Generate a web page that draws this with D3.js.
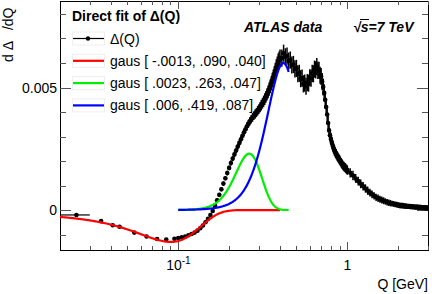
<!DOCTYPE html>
<meta charset="utf-8">
<style>
body { margin: 0; background: #fff; }
text { font-family: 'Liberation Sans', Arial, Helvetica, sans-serif; fill: #000; }
</style>
<body>
<script src="https://d3js.org/d3.v7.min.js"></script>
<script>
// measured Delta(Q) points
var qValues = [0.025, 0.035, 0.041, 0.045, 0.055, 0.065, 0.075, 0.085, 0.095,
  0.100, 0.105, 0.110, 0.115, 0.120, 0.125, 0.130, 0.135, 0.140, 0.145,
  0.150, 0.155, 0.160, 0.165, 0.170, 0.175, 0.180, 0.185, 0.190, 0.195,
  0.200, 0.205, 0.210, 0.215, 0.220, 0.225, 0.230, 0.235, 0.240, 0.245,
  0.250, 0.255, 0.260, 0.265, 0.270, 0.275, 0.280, 0.285, 0.290, 0.295,
  0.300, 0.305, 0.310, 0.315, 0.320, 0.325, 0.330, 0.335, 0.340, 0.345,
  0.350, 0.355, 0.360, 0.365, 0.370, 0.375, 0.380, 0.385, 0.390, 0.395,
  0.400,
  0.41, 0.42, 0.43, 0.44, 0.45, 0.46, 0.47, 0.48, 0.49, 0.50,
  0.51, 0.52, 0.53, 0.54, 0.55, 0.56, 0.57, 0.58, 0.59, 0.60,
  0.61, 0.62, 0.63, 0.64, 0.65, 0.66, 0.67, 0.68, 0.69, 0.70,
  0.71, 0.72, 0.73, 0.74, 0.75, 0.76, 0.77, 0.78, 0.79, 0.80,
  0.81, 0.82, 0.83, 0.84, 0.85, 0.86, 0.87, 0.88, 0.89, 0.90,
  0.91, 0.92, 0.93, 0.94, 0.95, 0.96, 0.97, 0.98, 0.99, 1.00,
  1.04, 1.08, 1.12, 1.16, 1.20, 1.24, 1.28, 1.32, 1.36, 1.40,
  1.44, 1.48, 1.52, 1.56, 1.60, 1.64, 1.68, 1.72, 1.76, 1.80,
  1.84, 1.88, 1.92, 1.96, 2.00, 2.04, 2.08, 2.12, 2.16, 2.20,
  2.24, 2.28, 2.32, 2.36, 2.40, 2.44, 2.48, 2.52, 2.56, 2.60,
  2.64, 2.68, 2.72, 2.76, 2.80, 2.84, 2.88, 2.92, 2.96, 3.00];
var deltaValues = [-0.00020, -0.00045, -0.00062, -0.00068, -0.00092, -0.00108, -0.00118, -0.00120, -0.00117,
  -0.00114, -0.00111, -0.00108, -0.00103, -0.00098, -0.00092, -0.00084, -0.00074, -0.00063, -0.00050,
  -0.00036, -0.00020, -0.00004, 0.00018, 0.00040, 0.00062, 0.00085, 0.00108, 0.00130, 0.00151,
  0.00172, 0.00192, 0.00210, 0.00227, 0.00243, 0.00259, 0.00274, 0.00289, 0.00303, 0.00317,
  0.00330, 0.00342, 0.00352, 0.00362, 0.00370, 0.00378, 0.00385, 0.00392, 0.00398, 0.00405,
  0.00412, 0.00420, 0.00428, 0.00436, 0.00444, 0.00453, 0.00462, 0.00472, 0.00482, 0.00493,
  0.00505, 0.00517, 0.00530, 0.00543, 0.00556, 0.00569, 0.00582, 0.00594, 0.00605, 0.00613,
  0.00620,
  0.00620, 0.00640, 0.00625, 0.00628, 0.00608, 0.00612, 0.00592, 0.00594, 0.00576, 0.00578,
  0.00556, 0.00558, 0.00536, 0.00538, 0.00515, 0.00518, 0.00505, 0.00520, 0.00518, 0.00540,
  0.00538, 0.00558, 0.00556, 0.00575, 0.00572, 0.00585, 0.00570, 0.00570, 0.00550, 0.00545,
  0.00524, 0.00502, 0.00478, 0.00450, 0.00420, 0.00390, 0.00355, 0.00325, 0.00305, 0.00290,
  0.00275, 0.00262, 0.00251, 0.00242, 0.00235, 0.00228, 0.00221, 0.00215, 0.00210, 0.00205,
  0.00199, 0.00193, 0.00188, 0.00183, 0.00179, 0.00176, 0.00173, 0.00170, 0.00166, 0.00163,
  0.00152, 0.00141, 0.00129, 0.00118, 0.00107, 0.00097, 0.00088, 0.00079, 0.00071, 0.00064,
  0.00058, 0.00052, 0.00048, 0.00044, 0.00041, 0.00038, 0.00035, 0.00032, 0.00030, 0.00028,
  0.00026, 0.00025, 0.00023, 0.00022, 0.00020, 0.00019, 0.00018, 0.00018, 0.00017, 0.00016,
  0.00016, 0.00015, 0.00015, 0.00014, 0.00014, 0.00013, 0.00013, 0.00012, 0.00012, 0.00012,
  0.00011, 0.00011, 0.00011, 0.00010, 0.00010, 0.00010, 0.00009, 0.00009, 0.00009, 0.00008];
var deltaErrors = [0.00003, 0.00003, 0.00003, 0.00003, 0.00003, 0.00003, 0.00003, 0.00003, 0.00003,
  0.00005, 0.00005, 0.00005, 0.00005, 0.00006, 0.00006, 0.00006, 0.00006, 0.00007, 0.00007,
  0.00007, 0.00007, 0.00008, 0.00008, 0.00008, 0.00008, 0.00009, 0.00009, 0.00009, 0.00010,
  0.00010, 0.00011, 0.00011, 0.00012, 0.00012, 0.00013, 0.00013, 0.00014, 0.00014, 0.00015,
  0.00015, 0.00016, 0.00016, 0.00017, 0.00017, 0.00018, 0.00018, 0.00019, 0.00019, 0.00020,
  0.00020, 0.00021, 0.00022, 0.00022, 0.00023, 0.00024, 0.00024, 0.00025, 0.00026, 0.00027,
  0.00028, 0.00029, 0.00030, 0.00030, 0.00031, 0.00032, 0.00033, 0.00033, 0.00034, 0.00034,
  0.00035,
  0.00035, 0.00035, 0.00035, 0.00035, 0.00035, 0.00035, 0.00035, 0.00035, 0.00035, 0.00035,
  0.00035, 0.00035, 0.00035, 0.00035, 0.00035, 0.00035, 0.00035, 0.00035, 0.00035, 0.00035,
  0.00035, 0.00035, 0.00035, 0.00035, 0.00035, 0.00035, 0.00035, 0.00035, 0.00035, 0.00035,
  0.00035, 0.00035, 0.00035, 0.00035, 0.00034, 0.00032, 0.00030, 0.00028, 0.00026, 0.00025,
  0.00024, 0.00023, 0.00022, 0.00022, 0.00021, 0.00021, 0.00020, 0.00020, 0.00020, 0.00020,
  0.00019, 0.00019, 0.00019, 0.00019, 0.00019, 0.00019, 0.00019, 0.00019, 0.00019, 0.00019,
  0.00019, 0.00019, 0.00018, 0.00018, 0.00018, 0.00017, 0.00017, 0.00017, 0.00016, 0.00016,
  0.00015, 0.00015, 0.00015, 0.00014, 0.00014, 0.00014, 0.00013, 0.00013, 0.00013, 0.00013,
  0.00012, 0.00012, 0.00012, 0.00012, 0.00012, 0.00012, 0.00012, 0.00012, 0.00012, 0.00012,
  0.00011, 0.00011, 0.00011, 0.00011, 0.00011, 0.00011, 0.00011, 0.00011, 0.00011, 0.00011,
  0.00011, 0.00011, 0.00011, 0.00011, 0.00011, 0.00011, 0.00011, 0.00011, 0.00011, 0.00011];
var qErrors = [0.005];   // only the first bin shows its width

// gaussian fits: [constant, mean, sigma] and their ranges
var fitConst = [-0.0013, 0.0023, 0.006];
var fitMean = [0.090, 0.263, 0.419];
var fitSigma = [0.040, 0.047, 0.087];
var fitFrom = [0.02, 0.1, 0.1];
var fitTo = [0.4, 0.45, 0.45];
var fitLabels = ["gaus [ -.0013, .090, .040]", "gaus [ .0023, .263, .047]", "gaus [ .006, .419, .087]"];
var fitColors = ["#ff0000", "#00ee00", "#0000ff"];

var yMajor = [0, 0.005], yMajorLabels = ["0", "0.005"];
var yMinor = [-0.001, 0.001, 0.002, 0.003, 0.004, 0.006, 0.007, 0.008];
var xMajor = [0.1, 1];
var xMinor = [0.03, 0.04, 0.05, 0.06, 0.07, 0.08, 0.09, 0.2, 0.3, 0.4, 0.5, 0.6, 0.7, 0.8, 0.9, 2, 3];

var width = 432, height = 294;
var L = 60, R = 428, T = 1, B = 250;

var svg = d3.select("body").append("svg")
    .attr("width", width)
    .attr("height", height);

var x = d3.scaleLog().domain([0.02, 3]).range([L, R]);
var y = d3.scaleLinear().domain([-0.00163, 0.00853]).range([B, T]);

var points = qValues.map((q, i) => ({q: q, v: deltaValues[i], e: deltaErrors[i], xe: qErrors[i] || 0}));

svg.append("clipPath").attr("id", "frame")
  .append("rect").attr("x", L).attr("y", T).attr("width", R - L + 1).attr("height", B - T);

// frame
svg.append("rect")
    .attr("x", L + 0.5).attr("y", T + 0.5)
    .attr("width", R - L).attr("height", B - T)
    .attr("fill", "none").attr("stroke", "#000").attr("stroke-width", 1);

var ticks = svg.append("g").attr("stroke", "#555").attr("stroke-width", 1).attr("shape-rendering", "crispEdges");
yMajor.concat(yMinor).forEach(v => {
  var len = yMajor.indexOf(v) >= 0 ? 11 : 6;
  var yy = Math.round(y(v)) + 0.5;
  ticks.append("line").attr("x1", L).attr("x2", L + len).attr("y1", yy).attr("y2", yy);
  ticks.append("line").attr("x1", R).attr("x2", R - len).attr("y1", yy).attr("y2", yy);
});
xMajor.concat(xMinor).forEach(q => {
  var len = xMajor.indexOf(q) >= 0 ? 8 : 4;
  var xx = Math.round(x(q)) + 0.5;
  ticks.append("line").attr("x1", xx).attr("x2", xx).attr("y1", B).attr("y2", B - len);
  ticks.append("line").attr("x1", xx).attr("x2", xx).attr("y1", T).attr("y2", T + len);
});

// tick labels
yMajor.forEach((v, i) => {
  svg.append("text").attr("x", 57).attr("y", y(v) + 5)
      .attr("text-anchor", "end").attr("font-size", 14).text(yMajorLabels[i]);
});
var xl = svg.append("text").attr("x", x(0.1) - 12).attr("y", 270).attr("font-size", 14);
xl.append("tspan").text("10");
xl.append("tspan").attr("font-size", 10).attr("dy", -6).text("-1");
svg.append("text").attr("x", x(1)).attr("y", 270).attr("text-anchor", "middle").attr("font-size", 14).text("1");

svg.append("text").attr("x", 428).attr("y", 289).attr("text-anchor", "end").attr("font-size", 14).text("Q [GeV]");
svg.append("text").attr("transform", "translate(13,62) rotate(-90)")
    .attr("font-size", 14).style("white-space", "pre").text("d \u0394   /dQ");

// data: error bars + markers
var g = svg.append("g").attr("clip-path", "url(#frame)");
g.selectAll("line.ey").data(points).join("line")
    .attr("class", "ey")
    .attr("x1", d => x(d.q)).attr("x2", d => x(d.q))
    .attr("y1", d => y(d.v - d.e)).attr("y2", d => y(d.v + d.e))
    .attr("stroke", "#000").attr("stroke-width", 1.5);
g.selectAll("line.ex").data(points.filter(d => d.xe > 0)).join("line")
    .attr("class", "ex")
    .attr("x1", d => x(d.q - d.xe)).attr("x2", d => x(d.q + d.xe))
    .attr("y1", d => y(d.v)).attr("y2", d => y(d.v))
    .attr("stroke", "#000").attr("stroke-width", 1.2);
g.selectAll("circle").data(points).join("circle")
    .attr("cx", d => x(d.q)).attr("cy", d => y(d.v)).attr("r", 2.3)
    .attr("fill", "#000");

// fit curves
var line = d3.line().x(d => x(d[0])).y(d => y(d[1]));
fitConst.forEach((c, i) => {
  var lo = Math.log10(fitFrom[i]), hi = Math.log10(fitTo[i]);
  var pts = d3.range(0, 201).map(k => {
    var q = Math.pow(10, lo + (hi - lo) * k / 200);
    var z = (q - fitMean[i]) / fitSigma[i];
    return [q, c * Math.exp(-0.5 * z * z)];
  });
  svg.append("path").datum(pts).attr("d", line)
      .attr("fill", "none").attr("stroke", fitColors[i]).attr("stroke-width", 2.2);
});

// legend
svg.append("text").attr("x", 72).attr("y", 21).attr("font-size", 14).attr("font-weight", "bold")
    .text("Direct fit of \u0394(Q)");
var rowY = [38.5, 60.8, 83.1, 105.4];
var leg = svg.append("g");
rowY.forEach((ry, i) => {
  leg.append("rect").attr("x", 72.5).attr("y", ry - 6.5).attr("width", 32).attr("height", 13)
      .attr("fill", "none").attr("stroke", "#eee");
});
leg.append("line").attr("x1", 73).attr("x2", 104).attr("y1", rowY[0]).attr("y2", rowY[0])
    .attr("stroke", "#000").attr("stroke-width", 1.2);
leg.append("circle").attr("cx", 88).attr("cy", rowY[0]).attr("r", 2.2).attr("fill", "#000");
leg.append("text").attr("x", 110).attr("y", rowY[0] + 5).attr("font-size", 14).text("\u0394(Q)");
fitLabels.forEach((t, i) => {
  var ry = rowY[i + 1];
  leg.append("line").attr("x1", 73).attr("x2", 104).attr("y1", ry).attr("y2", ry)
      .attr("stroke", fitColors[i]).attr("stroke-width", 2.2);
  leg.append("text").attr("x", 110).attr("y", ry + 5).attr("font-size", 14).text(t);
});

// labels
svg.append("text").attr("x", 244).attr("y", 32).attr("font-size", 14)
    .attr("font-weight", "bold").attr("font-style", "italic").text("ATLAS data");
svg.append("text").attr("x", 353).attr("y", 32).attr("font-size", 14)
    .attr("font-weight", "bold").attr("font-style", "italic").text("\u221As=7 TeV");
svg.append("line").attr("x1", 360).attr("x2", 369).attr("y1", 19.5).attr("y2", 19.5)
    .attr("stroke", "#000").attr("stroke-width", 1);
</script>
</body>
